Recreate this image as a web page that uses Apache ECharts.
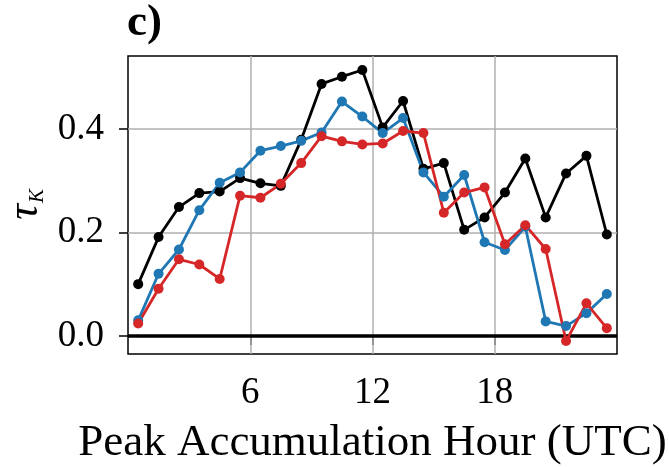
<!DOCTYPE html>
<html>
<head>
<meta charset="utf-8">
<script src="https://cdn.jsdelivr.net/npm/echarts@6/dist/echarts.min.js"></script>
<style>html,body{margin:0;padding:0;background:#fff;}#c{width:669px;height:467px;}</style>
</head>
<body>
<div id="c"></div>
<script>
var hours = [0.5,1.5,2.5,3.5,4.5,5.5,6.5,7.5,8.5,9.5,10.5,11.5,12.5,13.5,14.5,15.5,16.5,17.5,18.5,19.5,20.5,21.5,22.5,23.5];
var blackVals = [0.100,0.191,0.249,0.276,0.279,0.305,0.295,0.290,0.379,0.487,0.501,0.514,0.403,0.454,0.323,0.334,0.205,0.229,0.277,0.343,0.229,0.314,0.348,0.196];
var blueVals  = [0.030,0.120,0.167,0.243,0.296,0.316,0.358,0.367,0.377,0.393,0.453,0.424,0.392,0.421,0.316,0.269,0.311,0.181,0.166,0.211,0.028,0.019,0.044,0.081];
var redVals   = [0.024,0.091,0.148,0.138,0.110,0.271,0.267,0.294,0.334,0.386,0.376,0.370,0.372,0.396,0.392,0.238,0.277,0.287,0.177,0.214,0.168,-0.010,0.063,0.015];
var xTicks = [6, 12, 18];
var yTicks = [0.0, 0.2, 0.4];
var xTitle = 'Peak Accumulation Hour (UTC)';
var panelLabel = 'c)';

function pairs(v){ return hours.map(function(h,i){ return [h, v[i]]; }); }
var FONT = '"Liberation Serif", "DejaVu Serif", serif';

var gridLines = [];
xTicks.forEach(function(t){ gridLines.push({xAxis: t}); });
yTicks.forEach(function(t){ gridLines.push({yAxis: t}); });

function mkSeries(name, vals, color){
  return {
    name: name, type: 'line', data: pairs(vals), z: 5,
    symbol: 'circle', symbolSize: 10, showSymbol: true,
    lineStyle: {color: color, width: 2.8},
    itemStyle: {color: color, borderWidth: 0},
    animation: false, silent: true
  };
}

var chart = echarts.init(document.getElementById('c'));
chart.setOption({
  animation: false,
  backgroundColor: '#fff',
  grid: {left: 128, top: 56, width: 489, height: 298, show: true, borderColor: '#000', borderWidth: 1.5, backgroundColor: 'transparent', containLabel: false, outerBoundsMode: 'none'},
  xAxis: {
    type: 'value', min: 0, max: 24,
    axisLine: {show: false},
    splitLine: {show: false},
    axisTick: {show: true, customValues: xTicks, length: 9, lineStyle: {color: '#000', width: 1.5}},
    axisLabel: {customValues: xTicks, margin: 21, fontFamily: FONT, fontSize: 37, color: '#000'},
    name: xTitle, nameLocation: 'middle', nameGap: 67,
    nameTextStyle: {fontFamily: FONT, fontSize: 45, color: '#000'}
  },
  yAxis: {
    type: 'value', min: -0.035, max: 0.541,
    axisLine: {show: false},
    splitLine: {show: false},
    axisTick: {show: true, customValues: yTicks, length: 9, lineStyle: {color: '#000', width: 1.5}},
    axisLabel: {customValues: yTicks, margin: 24, fontFamily: FONT, fontSize: 37, color: '#000',
      formatter: function(v){ return v.toFixed(1); }}
  },
  graphic: [
    {type: 'text', left: 127, top: 1, style: {text: panelLabel, font: 'bold 45px ' + FONT, fill: '#000'}},
    {type: 'text', x: 25, y: 212, rotation: Math.PI/2, style: {text: 'τ', font: 'italic 44px ' + FONT, fill: '#000', align: 'center', verticalAlign: 'middle'}},
    {type: 'text', x: 37, y: 196, rotation: Math.PI/2, style: {text: 'K', font: 'italic 21px ' + FONT, fill: '#000', align: 'center', verticalAlign: 'middle'}}
  ],
  series: [
    {
      type: 'line', data: [], z: 1, silent: true,
      markLine: {
        silent: true, symbol: 'none', animation: false, label: {show: false},
        lineStyle: {color: '#b0b0b0', width: 1.5, type: 'solid'},
        data: gridLines
      }
    },
    {
      type: 'line', data: [], z: 2, silent: true,
      markLine: {
        silent: true, symbol: 'none', animation: false, label: {show: false},
        lineStyle: {color: '#000', width: 3.5, type: 'solid'},
        data: [{yAxis: 0}]
      }
    },
    mkSeries('black', blackVals, '#000000'),
    mkSeries('blue', blueVals, '#1f77b4'),
    mkSeries('red', redVals, '#d62728')
  ]
});
</script>
</body>
</html>
